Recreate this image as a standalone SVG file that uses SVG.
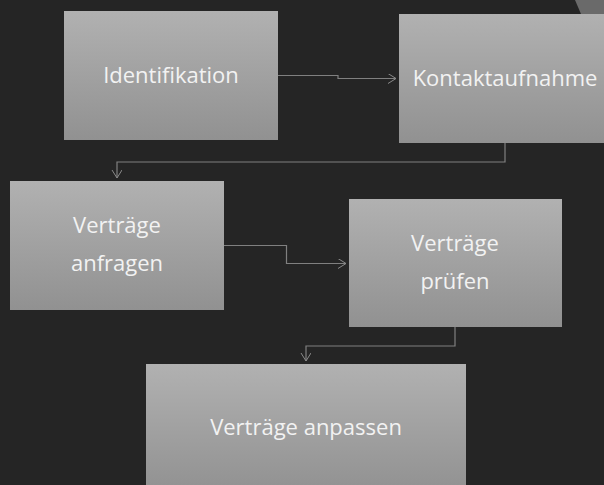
<svg xmlns="http://www.w3.org/2000/svg" width="604" height="485" viewBox="0 0 604 485">
<defs>
<linearGradient id="g" x1="0" y1="0" x2="0" y2="1">
<stop offset="0" stop-color="#b1b1b1"/>
<stop offset="1" stop-color="#919191"/>
</linearGradient>
<marker id="arr" markerWidth="12" markerHeight="12" refX="9" refY="5" orient="auto" markerUnits="userSpaceOnUse">
<path d="M1,0 L9,5 L1,10" fill="none" stroke="#8a8a8a" stroke-width="1"/>
</marker>
<style>
.box{fill:url(#g);}
.t{font-family:"Open Sans","Noto Sans","DejaVu Sans",sans-serif;font-size:22px;fill:#f2f2f2;text-anchor:middle;}
.c{fill:none;stroke:#808080;stroke-width:1.2;marker-end:url(#arr);}
</style>
</defs>
<rect width="604" height="485" fill="#252525"/>
<polygon points="575,0 604,0 604,14 581,14" fill="#6a6a6a"/>
<g id="n1"><rect class="box" x="64" y="11" width="214" height="129"/><text class="t" x="171" y="83">Identifikation</text></g>
<g id="n2"><rect class="box" x="399" y="14" width="213" height="129"/><text class="t" x="505" y="86">Kontaktaufnahme</text></g>
<g id="n3"><rect class="box" x="10" y="181" width="214" height="129"/><text class="t" x="117" y="233">Verträge</text><text class="t" x="117" y="271">anfragen</text></g>
<g id="n4"><rect class="box" x="349" y="199" width="213" height="128"/><text class="t" x="455" y="251">Verträge</text><text class="t" x="455" y="289">prüfen</text></g>
<g id="n5"><rect class="box" x="146" y="364" width="320" height="129"/><text class="t" x="306" y="435">Verträge anpassen</text></g>
<g id="connectors">
<path class="c" d="M278,75.5 H338 V78.5 H396"/>
<path class="c" d="M505,143 V162 H117 V178"/>
<path class="c" d="M224,245.5 H286.5 V263.5 H346"/>
<path class="c" d="M455,327 V346 H306 V361"/>
</g>
</svg>
